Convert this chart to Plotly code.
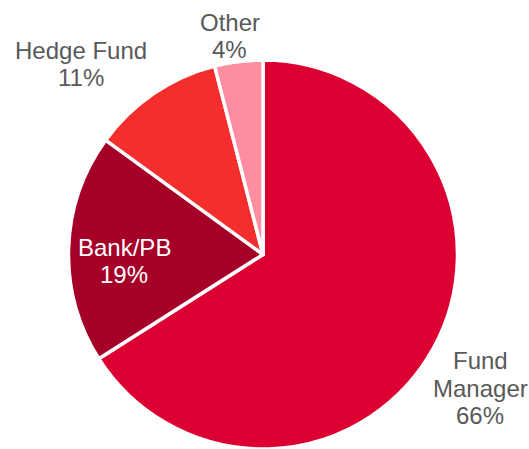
import math
import plotly.graph_objects as go

# Share of respondents by firm type
categories = ["Fund Manager", "Bank/PB", "Hedge Fund", "Other"]
shares = [66, 19, 11, 4]
label_lines = [["Fund", "Manager"], ["Bank/PB"], ["Hedge Fund"], ["Other"]]

colors = ["#DC0032", "#A50028", "#F32E2C", "#FF8DA1"]
text_colors = ["#595959", "#FFFFFF", "#595959", "#595959"]
# radial distance (in pie radii) and angular nudge (degrees) for each label
label_dist = [1.318, 0.719, 1.362, 1.142]
label_nudge = [2.8, -4.5, -9.5, -1.4]

W, H = 529, 449
CX, CY, R = 263.0, 254.5, 193.5
BORDER = 3.5
FONT = "Liberation Sans, Arial, sans-serif"
FS = 24
LINE_H = 27.5

# the white slice border straddles the rim, so widen the domain by half its width
# (kept inside the figure's bottom edge)
RD = min(R + BORDER / 2, H - CY)
fig = go.Figure(
    go.Pie(
        labels=categories,
        values=shares,
        sort=False,
        direction="clockwise",
        rotation=0,
        marker=dict(colors=colors, line=dict(color="#FFFFFF", width=BORDER)),
        textinfo="none",
        hoverinfo="label+percent",
        domain=dict(x=[(CX - RD) / W, (CX + RD) / W],
                    y=[max(0.0, (H - CY - RD) / H), (H - CY + RD) / H]),
        showlegend=False,
    )
)

# Data labels positioned around slice midpoints
total = sum(shares)
cum = 0
annotations = []
for i, v in enumerate(shares):
    mid = (cum + v / 2) / total * 360.0
    cum += v
    th = math.radians(mid + label_nudge[i])
    px = CX + R * label_dist[i] * math.sin(th)
    py = CY - R * label_dist[i] * math.cos(th)
    lines = label_lines[i] + [f"{round(v / total * 100)}%"]
    n = len(lines)
    for j, line in enumerate(lines):
        ly = py + (j - (n - 1) / 2) * LINE_H
        annotations.append(dict(
            x=px / W, y=1 - ly / H, xref="paper", yref="paper",
            text=line, showarrow=False, xanchor="center", yanchor="middle",
            font=dict(family=FONT, size=FS, color=text_colors[i]),
        ))

fig.update_layout(
    width=W, height=H,
    margin=dict(l=0, r=0, t=0, b=0),
    paper_bgcolor="#FFFFFF",
    plot_bgcolor="#FFFFFF",
    annotations=annotations,
)

fig.write_html("out.html")
